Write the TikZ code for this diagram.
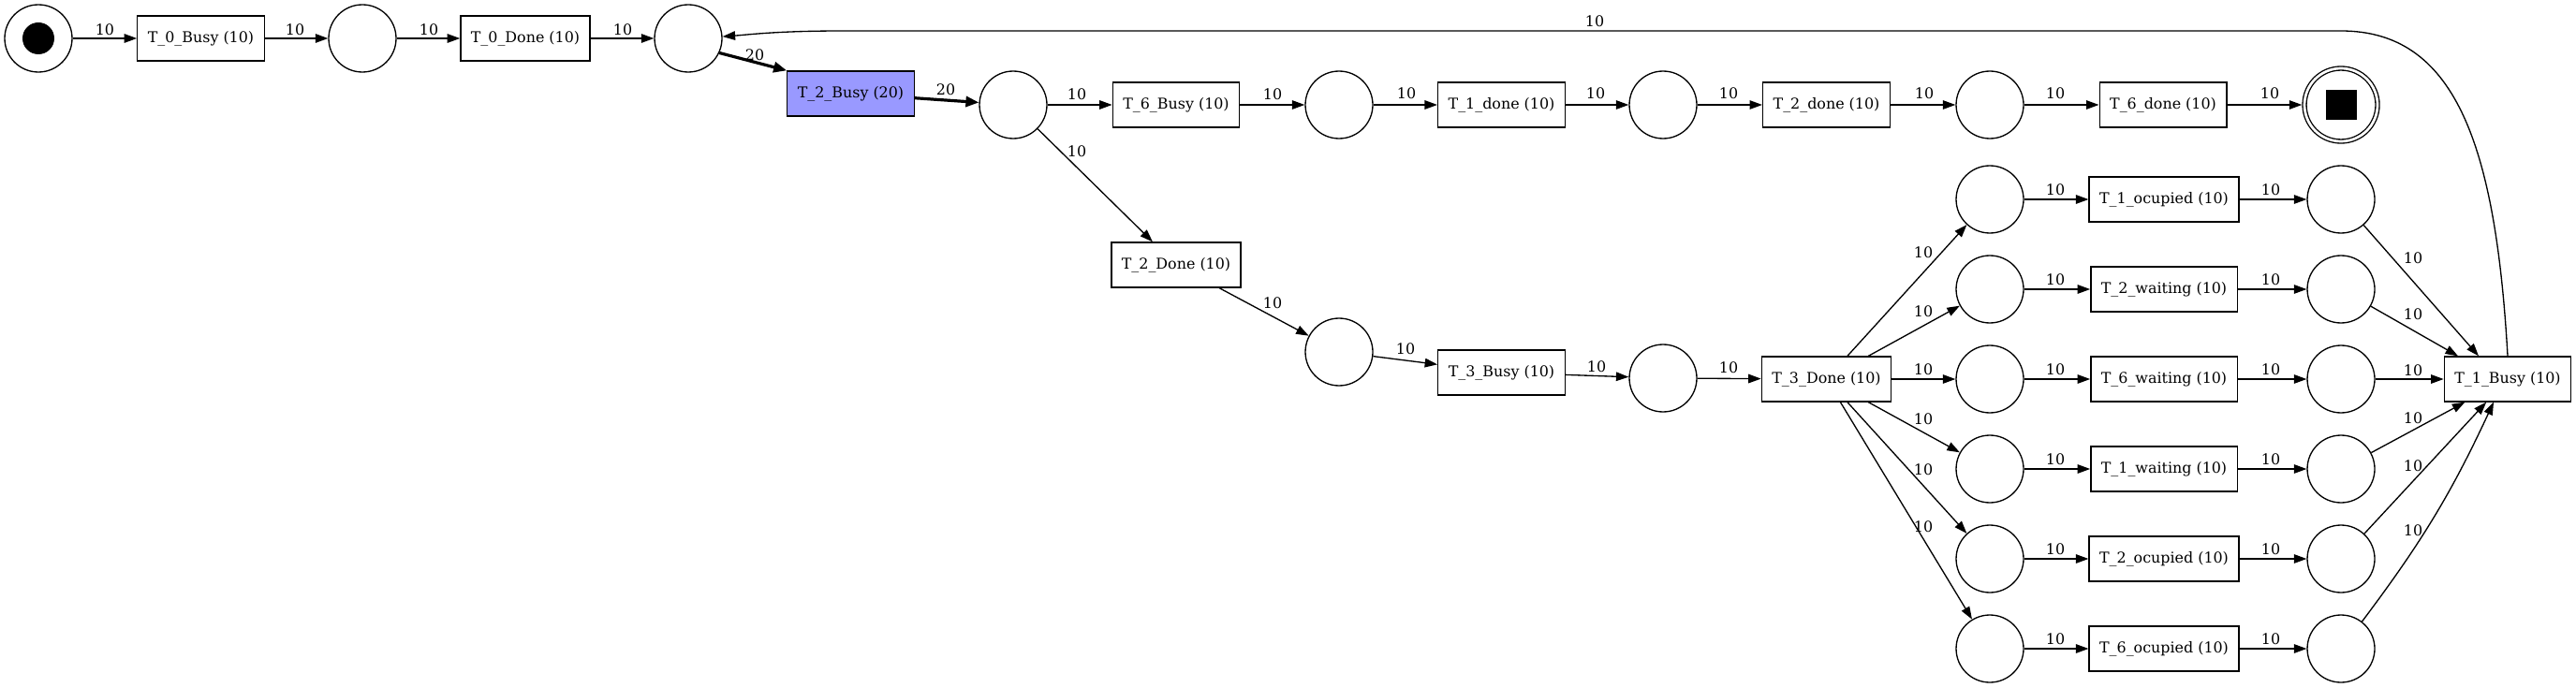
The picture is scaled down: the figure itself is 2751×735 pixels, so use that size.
\documentclass[tikz,border=0pt]{standalone}
\usepackage{fontspec}
\setmainfont{DejaVu Serif}
\usetikzlibrary{arrows.meta,calc}
\definecolor{tbusy}{RGB}{153,153,255}
\begin{document}
\begin{tikzpicture}[x=1pt,y=-1pt,
  every node/.style={font=\fontsize{15.9}{19}\selectfont},
  place/.style={circle,draw,line width=1.33pt,minimum size=72pt,inner sep=0pt},
  trans/.style={rectangle,draw,line width=1.33pt,minimum height=48pt,inner xsep=11pt,inner ysep=0pt},
  arc/.style={line width=1.33pt,-{Triangle[length=13.5pt,width=9.5pt]}},
  thickarc/.style={line width=3.2pt,-{Triangle[length=14pt,width=11pt]}},
  lbl/.style={inner sep=0pt}]
\fill[white] (0,0) rectangle (2751,735);
\useasboundingbox (0,0) rectangle (2751,735);

% top row
\node[place] (start) at (41,41) {};
\fill (start.center) circle (17pt);
\node[trans] (t0b) at (214.5,41) {T\_0\_Busy (10)};
\node[place] (p1) at (387,41) {};
\node[trans] (t0d) at (561,41) {T\_0\_Done (10)};
\node[place] (p2) at (735,41) {};
\node[trans,fill=tbusy] (t2b) at (908.5,100) {T\_2\_Busy (20)};
\node[place] (p3) at (1082,112) {};
\node[trans] (t6b) at (1256,112) {T\_6\_Busy (10)};
\node[place] (p4) at (1430,112) {};
\node[trans] (t1d) at (1603.5,112) {T\_1\_done (10)};
\node[place] (p5) at (1776,112) {};
\node[trans] (t2d) at (1950.5,112) {T\_2\_done (10)};
\node[place] (p6) at (2125,112) {};
\node[trans] (t6d) at (2310,112) {T\_6\_done (10)};
\node[place,double,double distance=2.7pt,minimum size=78pt,outer sep=2.7pt] (endp) at (2500,112) {};
\node[fill=black,minimum width=33pt,minimum height=32pt,inner sep=0pt] (endsq) at (endp.center) {};

% middle
\node[trans] (t2D) at (1256,283) {T\_2\_Done (10)};
\node[place] (p7) at (1430,376) {};
\node[trans] (t3b) at (1603.5,398) {T\_3\_Busy (10)};
\node[place] (p8) at (1776,404) {};
\node[trans] (t3d) at (1950.5,405) {T\_3\_Done (10)};
\node[trans] (t1B) at (2678,405) {T\_1\_Busy (10)};

% fan
\foreach \i/\y/\t in {1/213/T\_1\_ocupied (10),2/309/T\_2\_waiting (10),3/405/T\_6\_waiting (10),4/501/T\_1\_waiting (10),5/597/T\_2\_ocupied (10),6/693/T\_6\_ocupied (10)}{
  \node[place] (a\i) at (2125,\y) {};
  \node[trans] (tr\i) at (2311,\y) {\t};
  \node[place] (b\i) at (2500,\y) {};
  \draw[arc] (t3d) -- (a\i);
  \draw[arc] (a\i) -- (tr\i);
  \draw[arc] (tr\i) -- (b\i);
  \node[lbl] at (2195,\y-10) {10};
  \node[lbl] at (2425,\y-10) {10};
}
\draw[arc] (b1) -- ($(t1B.north)+(-31,0)$);
\draw[arc] (b2) -- ($(t1B.north)+(-53,0)$);
\draw[arc] (b3) -- (t1B);
\draw[arc] (b4) -- (t1B);
\draw[arc] (b5) -- (t1B);
\draw[arc] (b6) to[bend right=6] ($(t1B.south)+(-15,0)$);

% edges top
\draw[arc] (start) -- (t0b);
\draw[arc] (t0b) -- (p1);
\draw[arc] (p1) -- (t0d);
\draw[arc] (t0d) -- (p2);
\draw[thickarc] (p2.-25) -- (t2b.north west);
\draw[thickarc] (t2b) -- (p3);
\draw[arc] (p3) -- (t6b);
\draw[arc] (t6b) -- (p4);
\draw[arc] (p4) -- (t1d);
\draw[arc] (t1d) -- (p5);
\draw[arc] (p5) -- (t2d);
\draw[arc] (t2d) -- (p6);
\draw[arc] (p6) -- (t6d);
\draw[arc] (t6d) -- (endp);
% middle edges
\draw[arc] (p3) -- (t2D);
\draw[arc] (t2D) -- (p7);
\draw[arc] (p7) -- (t3b);
\draw[arc] (t3b) -- (p8);
\draw[arc] (p8) -- (t3d);
% loop
\draw[arc] (t1B.north) .. controls (2665,150) and (2620,33) .. (2500,33) -- (900,33) .. controls (830,33) and (800,37) .. (p2.3);

% labels
\node[lbl] at (112,32) {10};
\node[lbl] at (315,32) {10};
\node[lbl] at (458,32) {10};
\node[lbl] at (665,32) {10};
\node[lbl] at (1703,23) {10};
\node[lbl] at (806,59) {20};
\node[lbl] at (1010,96) {20};
\node[lbl] at (1150,101) {10};
\node[lbl] at (1359,101) {10};
\node[lbl] at (1502,100) {10};
\node[lbl] at (1704,100) {10};
\node[lbl] at (1846,100) {10};
\node[lbl] at (2055,100) {10};
\node[lbl] at (2195,100) {10};
\node[lbl] at (2424,100) {10};
\node[lbl] at (1150,162) {10};
\node[lbl] at (1359,324) {10};
\node[lbl] at (1501,373) {10};
\node[lbl] at (1705,392) {10};
\node[lbl] at (1846,393) {10};
\node[lbl] at (2054,270) {10};
\node[lbl] at (2054,333) {10};
\node[lbl] at (2054,395) {10};
\node[lbl] at (2054,448) {10};
\node[lbl] at (2054,502) {10};
\node[lbl] at (2054,563) {10};
\node[lbl] at (2577,276) {10};
\node[lbl] at (2577,336) {10};
\node[lbl] at (2577,396) {10};
\node[lbl] at (2577,447) {10};
\node[lbl] at (2577,498) {10};
\node[lbl] at (2577,567) {10};
\end{tikzpicture}
\end{document}
